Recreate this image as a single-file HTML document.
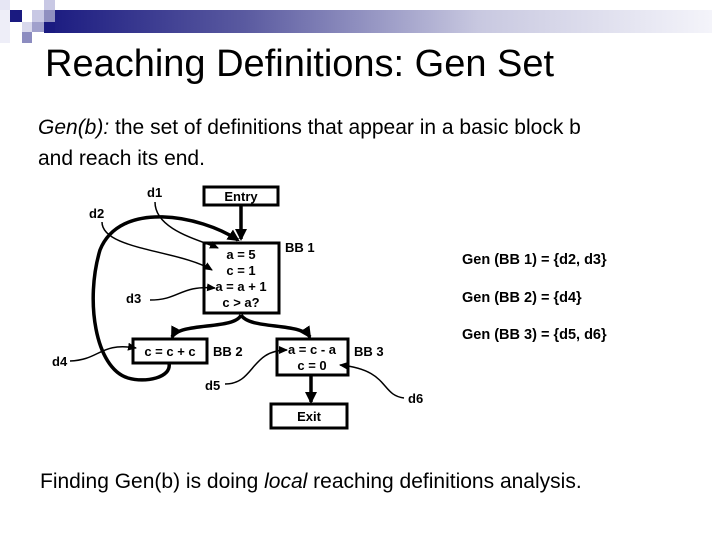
<!DOCTYPE html>
<html><head><meta charset="utf-8"><style>
body{margin:0;width:720px;height:540px;background:#fff;overflow:hidden;position:relative;font-family:"Liberation Sans",sans-serif}
.a{position:absolute}
</style></head><body>
<div class="a" style="left:45px;top:10px;width:667px;height:23px;background:linear-gradient(90deg,#1a1a80 0%,#5a5aa0 30%,#c8c8e0 65%,#f4f4fa 100%)"></div>
<div class="a" style="left:0;top:0;width:10px;height:10px;background:#e6e6f4"></div>
<div class="a" style="left:10px;top:10px;width:12px;height:12px;background:#1a1a80"></div>
<div class="a" style="left:0;top:10px;width:10px;height:33px;background:#eeeef8"></div>
<div class="a" style="left:32px;top:10px;width:12px;height:12px;background:#c8c8e4"></div>
<div class="a" style="left:44px;top:0;width:11px;height:10px;background:#c8c8e4"></div>
<div class="a" style="left:44px;top:10px;width:11px;height:12px;background:#9090c0"></div>
<div class="a" style="left:22px;top:22px;width:10px;height:10px;background:#d8d8ec"></div>
<div class="a" style="left:32px;top:22px;width:12px;height:10px;background:#a0a0cc"></div>
<div class="a" style="left:44px;top:22px;width:11px;height:11px;background:#1a1a80"></div>
<div class="a" style="left:22px;top:32px;width:10px;height:11px;background:#8c8cc0"></div>
<div class="a" style="left:45px;top:43px;font-size:38px;color:#000">Reaching Definitions: Gen Set</div>
<div class="a" style="left:38px;top:112px;font-size:21px;line-height:31px;color:#000"><i>Gen(b):</i> the set of definitions that appear in a basic block b<br>and reach its end.</div>
<div class="a" style="left:40px;top:470px;font-size:21px;color:#000">Finding Gen(b) is doing <i>local</i> reaching definitions analysis.</div>
<svg class="a" style="left:0;top:0" width="720" height="540" viewBox="0 0 720 540">
<defs><marker id="m" markerWidth="14" markerHeight="14" refX="10" refY="7" orient="auto" markerUnits="userSpaceOnUse"><path d="M0,1 L12,7 L0,13z" fill="#000"/></marker>
<marker id="s" markerWidth="10" markerHeight="10" refX="8" refY="5" orient="auto" markerUnits="userSpaceOnUse"><path d="M0,1 L9,5 L0,9z" fill="#000"/></marker></defs>
<g fill="#fff" stroke="#000" stroke-width="3">
<rect x="204" y="187" width="74" height="18"/>
<rect x="204" y="243" width="75" height="70"/>
<rect x="133" y="339" width="74" height="24"/>
<rect x="277" y="339" width="71" height="36"/>
<rect x="271" y="404" width="76" height="24"/>
</g>
<g fill="none" stroke="#000" stroke-width="3.5" marker-end="url(#m)">
<path d="M241,205 L241,239"/>
<path d="M241,315 C235,330 180,322 172,337"/>
<path d="M241,315 C250,330 300,322 310,337"/>
<path d="M169,363 C172,378 145,383 128,378 C95,368 85,300 100,250 C120,200 200,215 238,240"/>
<path d="M311,375 L311,402"/>
</g>
<g fill="none" stroke="#000" stroke-width="1.5" marker-end="url(#s)">
<path d="M155,202 C155,230 200,240 218,248"/>
<path d="M102,222 C102,250 180,250 212,270"/>
<path d="M150,300 C180,300 180,285 215,288"/>
<path d="M70,361 C100,360 100,342 136,348"/>
<path d="M225,384 C255,384 250,350 287,350"/>
<path d="M404,398 C380,395 390,370 340,365"/>
</g>
<g font-family="Liberation Sans,sans-serif" font-weight="bold" font-size="13" fill="#000">
<text x="241" y="201" text-anchor="middle">Entry</text>
<text x="241" y="259" text-anchor="middle">a = 5</text>
<text x="241" y="275" text-anchor="middle">c = 1</text>
<text x="241" y="291" text-anchor="middle">a = a + 1</text>
<text x="241" y="307" text-anchor="middle">c &gt; a?</text>
<text x="170" y="356" text-anchor="middle">c = c + c</text>
<text x="312" y="354" text-anchor="middle">a = c - a</text>
<text x="312" y="370" text-anchor="middle">c = 0</text>
<text x="309" y="421" text-anchor="middle">Exit</text>
<text x="285" y="252">BB 1</text>
<text x="213" y="356">BB 2</text>
<text x="354" y="356">BB 3</text>
<text x="147" y="197">d1</text>
<text x="89" y="218">d2</text>
<text x="126" y="303">d3</text>
<text x="52" y="366">d4</text>
<text x="205" y="390">d5</text>
<text x="408" y="403">d6</text>
</g>
<g font-family="Liberation Sans,sans-serif" font-weight="bold" font-size="14.5" fill="#000">
<text x="462" y="264">Gen (BB 1) = {d2, d3}</text>
<text x="462" y="302">Gen (BB 2) = {d4}</text>
<text x="462" y="339">Gen (BB 3) = {d5, d6}</text>
</g>
</svg>
</body></html>
